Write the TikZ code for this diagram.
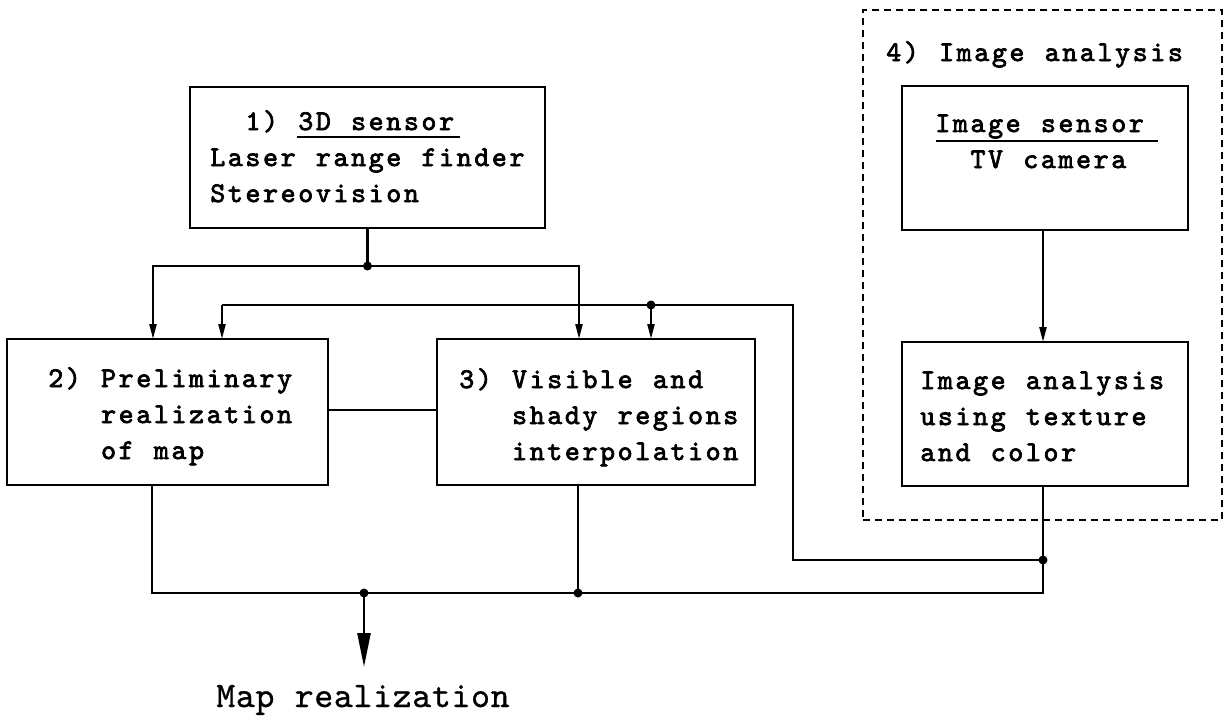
\documentclass[tikz,border=0pt]{standalone}
\usepackage{fontspec}
\newfontfamily\bxfont{lmmono10-regular.otf}[FakeBold=2.6]
\newfontfamily\outfont{lmmono10-regular.otf}[FakeBold=0.8]
\usetikzlibrary{arrows.meta}
\ExplSyntaxOn
\NewDocumentCommand \mono { O{17.6pt} m }
  { \tl_map_inline:nn {#2} { \makebox[#1][c]{##1} } }
\ExplSyntaxOff
\tikzset{
  box/.style={draw, line width=2.5pt, inner sep=0pt, outer sep=0pt, anchor=north west},
  grpbox/.style={draw, line width=1.6pt, dash pattern=on 7pt off 5pt, inner sep=0pt, outer sep=0pt, anchor=north west},
  txt/.style={anchor=base west, inner sep=0pt, outer sep=0pt, font=\bxfont\fontsize{28.5}{36}\selectfont},
  outtxt/.style={anchor=base west, inner sep=0pt, outer sep=0pt, font=\outfont\fontsize{36}{40}\selectfont},
  ln/.style={line width=2.3pt},
  ul/.style={line width=2.2pt},
  arr/.style={ln, -{Triangle[length=15pt,width=7pt]}},
  bigarr/.style={line width=2.4pt, -{Triangle[length=34pt,width=13pt]}},
  dot/.style={circle, fill, inner sep=0pt, minimum size=9pt}
}
\begin{document}
\begin{tikzpicture}[x=1pt,y=-1pt]
\useasboundingbox (0,0) rectangle (1225,721);
% boxes
\node[box, minimum width=355pt, minimum height=141pt] (b1) at (190,87) {};
\node[box, minimum width=321pt, minimum height=146pt] (b2) at (7,339) {};
\node[box, minimum width=318pt, minimum height=146pt] (b3) at (437,339) {};
\node[box, minimum width=286pt, minimum height=144pt] (b4) at (902,86) {};
\node[box, minimum width=286pt, minimum height=144pt] (b5) at (902,342) {};
\node[grpbox, minimum width=359pt, minimum height=510pt] (grp) at (863,10) {};
% texts box 1
\node[txt] (t11) at (209,130) {\mono{~~1)~3D~sensor}};
\node[txt] (t12) at (209,166) {\mono{Laser~range~finder}};
\node[txt] (t13) at (209,202) {\mono{Stereovision}};
\draw[ul] ([shift={(88,7)}]t11.base west) -- ([shift={(251,7)}]t11.base west);
% box 2
\node[txt] (t21) at (47,387) {\mono{2)~Preliminary}};
\node[txt] (t22) at (47,423) {\mono{~~~realization}};
\node[txt] (t23) at (47,459) {\mono{~~~of~map}};
% box 3
\node[txt] (t31) at (458,388) {\mono{3)~Visible~and}};
\node[txt] (t32) at (458,424) {\mono{~~~shady~regions}};
\node[txt] (t33) at (458,460) {\mono{~~~interpolation}};
% group title and box 4
\node[txt] (t40) at (885,61) {\mono{4)~Image~analysis}};
\node[txt] (t41) at (934,132) {\mono{Image~sensor}};
\node[txt] (t42) at (934,168) {\mono{~~TV~camera}};
\draw[ul] ([shift={(2,9)}]t41.base west) -- ([shift={(224,9)}]t41.base west);
% box 5
\node[txt] (t51) at (919,389) {\mono{Image~analysis}};
\node[txt] (t52) at (919,425) {\mono{using~texture}};
\node[txt] (t53) at (919,461) {\mono{and~color}};
% output label
\node[outtxt] (out) at (216,707) {\mono[19.6pt]{Map~realization}};

% connectors from 3D sensor
\coordinate (j1) at (367.5,266);
\coordinate (l1) at (153,266);
\coordinate (r1) at (579,266);
\draw[ln] (b1.south) -- (j1);
\draw[arr] (j1) -- (l1) -- (l1 |- b2.north);
\draw[arr] (j1) -- (r1) -- (r1 |- b3.north);
\node[dot] (d1) at (j1) {};

% feedback loop from image analysis
\coordinate (j2) at (1043,560);
\coordinate (k1) at (793,560);
\coordinate (k2) at (793,305);
\coordinate (k3) at (222,305);
\coordinate (j3) at (651,305);
\draw[ln] (j2) -- (k1) -- (k2) -- (k3);
\draw[arr] (k3) -- (k3 |- b2.north);
\draw[arr] (j3) -- (j3 |- b3.north);
\node[dot] (d2) at (j2) {};
\node[dot] (d3) at (j3) {};

% image sensor to image analysis
\draw[arr] (j2 |- b4.south) -- (j2 |- b5.north);

% link between 2 and 3
\coordinate (m) at (380,410);
\draw[ln] (m -| b2.east) -- (m -| b3.west);

% bottom collector
\coordinate (s2) at (152,593);
\coordinate (s3) at (578,593);
\coordinate (s5) at (1043,593);
\coordinate (q) at (364,593);
\coordinate (qt) at (364,667);
\draw[ln] (s2 |- b2.south) -- (s2) -- (s5) -- (j2) -- (j2 |- b5.south);
\draw[ln] (s3 |- b3.south) -- (s3);
\node[dot] (d4) at (s3) {};
\node[dot] (d5) at (q) {};
\draw[bigarr] (q) -- (qt);
\end{tikzpicture}
\end{document}
